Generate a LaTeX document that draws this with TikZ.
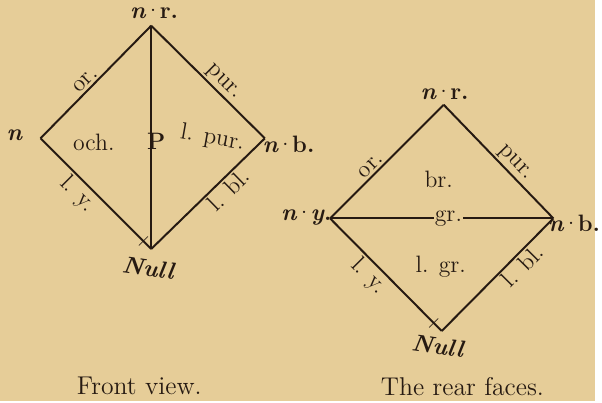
\documentclass[tikz,border=0pt]{standalone}
\usepackage{tikz}
\usetikzlibrary{positioning}

\definecolor{paper}{RGB}{230,205,152}
\definecolor{ink}{RGB}{38,26,18}

\newcommand{\vdot}{\kern-1.2pt{\mdseries\textperiodcentered}\kern-1.2pt}

\tikzset{
  edge/.style={ink, line width=1pt},
  lbl/.style={ink, font=\fontsize{12}{14}\selectfont, inner sep=1pt},
  vtx/.style={ink, font=\fontsize{12}{14}\selectfont\bfseries, inner sep=1pt},
  tick/.style={ink, font=\normalsize, inner sep=0pt},
  caption/.style={ink, font=\fontsize{13}{15}\selectfont},
}

\begin{document}
\begin{tikzpicture}[x=0.5pt, y=-0.5pt]
  \fill[paper] (0,0) rectangle (602,406);

  % Front view
  \coordinate (ft) at (153,26);
  \coordinate (fl) at (41,140);
  \coordinate (fr) at (268,140);
  \coordinate (fb) at (153,252);

  \draw[edge] (fl) -- node[lbl, sloped, above, pos=0.46] (for) {or.} (ft);
  \draw[edge] (ft) -- node[lbl, sloped, above, pos=0.57] (fpur) {pur.} (fr);
  \draw[edge] (fl) -- node[lbl, sloped, below, pos=0.42] (fly) {l. y.}
                      node[tick, sloped, pos=0.93] (ftick) {+} (fb);
  \draw[edge] (fb) -- node[lbl, sloped, below, pos=0.61] (flbl) {l. bl.} (fr);
  \draw[edge] (ft) -- (fb);

  \node[lbl, font=\fontsize{12}{14}\selectfont\bfseries] (fpm) at (158,143) {P};
  \node[lbl] (foch) at (95,144) {och.};
  \node[lbl, rotate=-10] (flpur) at (215,140) {l. pur.};

  \node[vtx] (fnr) at (156,13) {\textit{n}\vdot r.};
  \node[vtx] (fn) at (15,137) {\textit{n}};
  \node[vtx] (fnb) at (292,146) {\textit{n}\vdot b.};
  \node[vtx, rotate=-8] (fnull) at (150,271) {\itshape Null};

  \node[caption] (fcap) at (141,391) {Front view.};

  % The rear faces
  \coordinate (rt) at (449,106);
  \coordinate (rl) at (334,221);
  \coordinate (rr) at (560,221);
  \coordinate (rb) at (447,335);

  \draw[edge] (rl) -- node[lbl, sloped, above, pos=0.41] (ror) {or.} (rt);
  \draw[edge] (rt) -- node[lbl, sloped, above, pos=0.58] (rpur) {pur.} (rr);
  \draw[edge] (rl) -- node[lbl, sloped, below, pos=0.43] (rly) {l. y.}
                      node[tick, sloped, pos=0.93] (rtick) {+} (rb);
  \draw[edge] (rb) -- node[lbl, sloped, below, pos=0.65] (rlbl) {l. bl.} (rr);
  \draw[edge] (rl) -- node[lbl, fill=paper, inner sep=0.5pt, pos=0.53] (rgr) {gr.} (rr);

  \node[lbl] (rbr) at (444,182) {br.};
  \node[lbl] (rlgr) at (446,270) {l. gr.};

  \node[vtx] (rnr) at (450,95) {\textit{n}\vdot r.};
  \node[vtx] (rny) at (310,220) {\textit{n}\vdot\textit{y}.};
  \node[vtx] (rnb) at (581,226) {\textit{n}\vdot b.};
  \node[vtx, rotate=-8] (rnull) at (443,350) {\itshape Null};

  \node[caption] (rcap) at (468,391) {The rear faces.};
\end{tikzpicture}
\end{document}
